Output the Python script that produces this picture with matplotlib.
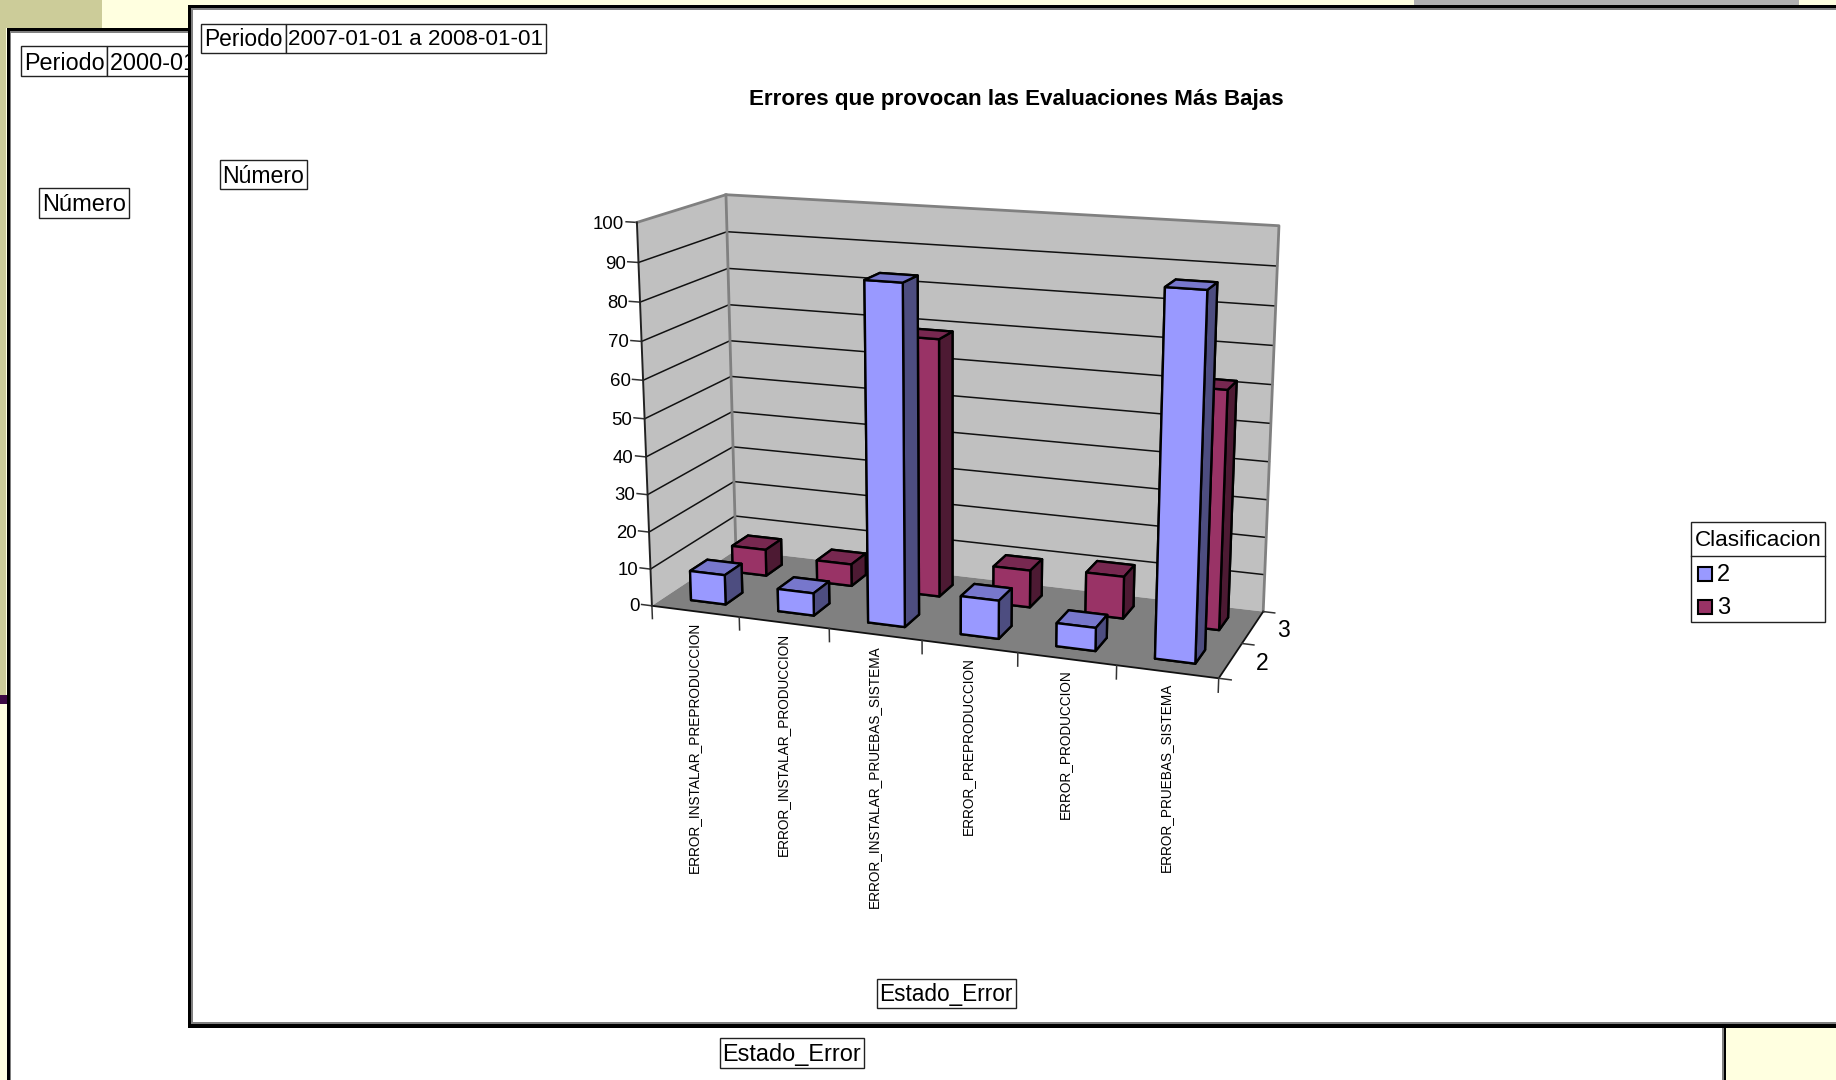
import numpy as np
import matplotlib
matplotlib.use('Agg')
import matplotlib.pyplot as plt
from matplotlib.patches import Rectangle
from mpl_toolkits.mplot3d.art3d import Poly3DCollection

plt.rcParams['font.family'] = ['Liberation Sans', 'DejaVu Sans']

categories = ['ERROR_INSTALAR_PREPRODUCCION', 'ERROR_INSTALAR_PRODUCCION',
              'ERROR_INSTALAR_PRUEBAS_SISTEMA', 'ERROR_PREPRODUCCION',
              'ERROR_PRODUCCION', 'ERROR_PRUEBAS_SISTEMA']
series_names = ['2', '3']
values_2 = [8, 6, 88, 10, 6, 91.2]
values_3 = [7.3, 6, 69, 10, 11.2, 62]
z_ticks = list(range(0, 101, 10))

title = 'Errores que provocan las Evaluaciones Más Bajas'
periodo_front = '2007-01-01 a 2008-01-01'
periodo_back = '2000-01-01 a 2008-01-01'

# face colours in bar3d order: bottom, top, front, back, left, right
colors_2 = ['#4d4d80', '#7777cc', '#9999ff', '#4d4d80', '#4d4d80', '#4d4d80']
colors_3 = ['#4d1a33', '#772850', '#993366', '#4d1a33', '#4d1a33', '#4d1a33']

# camera calibration: chart box points (cat, series, value) and where they land in pixels
calib_world = [(0, 0, 0), (0, 0, 100), (0, 2, 0), (0, 2, 100), (6, 2, 0), (6, 2, 100), (6, 0, 0),
               (1, 0, 0), (2, 0, 0), (3, 0, 0), (4, 0, 0), (5, 0, 0),
               (0, 0, 50), (0, 0, 20), (0, 0, 80)]
calib_px = [(652, 605), (637, 223), (736, 552), (726, 194), (1263, 610), (1279, 226), (1219, 679),
            (739.3, 616.4), (829.3, 628.3), (922, 640.3), (1017.6, 653), (1116.7, 666),
            (644.3, 418.7), (649, 531.3), (640, 302.3)]


def fit_camera(world, px):
    rows = []
    rhs = []
    for (x, y, z), (u, v) in zip(world, px):
        rows.append([x, y, z, 1, 0, 0, 0, 0, -u * x, -u * y, -u * z])
        rhs.append(u)
        rows.append([0, 0, 0, 0, x, y, z, 1, -v * x, -v * y, -v * z])
        rhs.append(v)
    p = np.linalg.lstsq(np.array(rows, float), np.array(rhs, float), rcond=None)[0]
    return np.append(p, 1.0).reshape(3, 4)


H = fit_camera(calib_world, calib_px)


def to_px(x, y, z):
    u, v, w = H @ np.array([x, y, z, 1.0])
    return u / w, v / w


fig = plt.figure(figsize=(18.36, 10.8), dpi=100, facecolor='#ffffe0')

# flat layer in pixels for the windows and the labels
bg = fig.add_axes([0, 0, 1, 1], zorder=0)
bg.set_xlim(0, 1836)
bg.set_ylim(1080, 0)
bg.axis('off')


def rect(x0, y0, x1, y1, color, z=1):
    bg.add_patch(Rectangle((x0, y0), x1 - x0, y1 - y0, facecolor=color, edgecolor='none', zorder=z))


def box(x0, y0, x1, y1, z=1):
    bg.add_patch(Rectangle((x0, y0), x1 - x0, y1 - y0, facecolor='white', edgecolor='#222222',
                           linewidth=1.0, zorder=z))


# slide background
rect(0, 0, 102, 28, '#cccc99')
rect(0, 0, 6, 695, '#cccc99')
rect(0, 695, 8, 704, '#3d0a45')
rect(1414, 0, 1799, 5, '#b0b0b0')

# back window
rect(7, 28, 1726, 1080, 'black')
rect(10, 31, 1724, 1080, '#808080')
rect(11, 33, 1722, 1080, 'white')
box(20.5, 46, 107, 76)
box(107, 46, 260, 76)
bg.text(64, 63, 'Periodo', fontsize=16.8, ha='center', va='center', zorder=1.5)
bg.text(110.5, 63, periodo_back, fontsize=16.8, ha='left', va='center', zorder=1.5)
box(38.7, 188, 129, 218)
bg.text(84, 205, 'Número', fontsize=17, ha='center', va='center', zorder=1.5)
box(720, 1038, 864, 1068)
bg.text(792, 1055, 'Estado_Error', fontsize=16.9, ha='center', va='center', zorder=1.5)

# front window
rect(188, 5, 1836, 1028, 'black', z=2)
rect(191, 8, 1836, 1024, '#808080', z=2)
rect(193, 10, 1836, 1022, 'white', z=2)

box(201, 23.5, 285.5, 52.5, z=3)
box(285.5, 23.5, 546, 52.5, z=3)
bg.text(243, 39.5, 'Periodo', fontsize=16.4, ha='center', va='center', zorder=4)
bg.text(288.5, 39.5, periodo_front, fontsize=16.1, ha='left', va='center', zorder=4)
box(219.5, 160, 306.5, 189, z=3)
bg.text(263, 176.5, 'Número', fontsize=16.6, ha='center', va='center', zorder=4)
box(876.5, 979, 1015.6, 1008, z=3)
bg.text(946, 995, 'Estado_Error', fontsize=16.3, ha='center', va='center', zorder=4)
bg.text(1016.5, 99, title, fontsize=16.15, fontweight='bold', ha='center', va='center', zorder=4)

# legend
box(1691, 522, 1825, 622, z=3)
bg.plot([1691, 1825], [556, 556], color='#222222', lw=1.0, zorder=4)
bg.text(1758, 540, 'Clasificacion', fontsize=16.2, ha='center', va='center', zorder=4)
for name, col, yc in zip(series_names, [colors_2[2], colors_3[2]], [573.5, 606.5]):
    bg.add_patch(Rectangle((1698, yc - 7), 14, 14, facecolor=col, edgecolor='black', linewidth=1.5, zorder=4))
    bg.text(1717, yc + 1.5, name, fontsize=17, ha='left', va='center', zorder=4)

# axis labels, placed from the same camera
for i, lab in enumerate(categories):
    u, v = to_px(i + 0.5, 0, -2.8)
    bg.text(u - 1.5, v, lab, fontsize=9.8, rotation=90, ha='center', va='top', zorder=4)
for z in z_ticks:
    u, v = to_px(-0.14, 0, z)
    bg.text(u, v + 2.5, str(z), fontsize=13.4, ha='right', va='center', zorder=4)
for k, name in enumerate(series_names):
    u, v = to_px(6.25, k + 0.5, 0)
    bg.text(u, v, name, fontsize=16.5, ha='left', va='center', zorder=4)

# the chart itself
ax = fig.add_axes([0, 0, 1, 1], projection='3d', computed_zorder=False, zorder=1)
ax.patch.set_visible(False)
ax.set_axis_off()

x_max = len(categories)
y_max = len(series_names)
z_max = z_ticks[-1]

walls = [[(0, 0, 0), (0, y_max, 0), (0, y_max, z_max), (0, 0, z_max)],
         [(0, y_max, 0), (x_max, y_max, 0), (x_max, y_max, z_max), (0, y_max, z_max)]]
wall_col = Poly3DCollection(walls, facecolors='#c0c0c0', edgecolors='none', zorder=1)
ax.add_collection3d(wall_col)
floor = [[(0, 0, 0), (x_max, 0, 0), (x_max, y_max, 0), (0, y_max, 0)]]
floor_col = Poly3DCollection(floor, facecolors='#808080', edgecolors='none', zorder=1.5)
ax.add_collection3d(floor_col)

for z in z_ticks[1:-1]:
    ax.plot([0, 0, x_max], [0, y_max, y_max], [z, z, z], color='#111111', lw=1.1, zorder=2)
    ax.plot([-0.12, 0], [0, 0], [z, z], color='#333333', lw=1.1, zorder=2)
ax.plot([-0.12, 0], [0, 0], [0, 0], color='#333333', lw=1.1, zorder=2)
ax.plot([-0.12, 0], [0, 0], [z_max, z_max], color='#333333', lw=1.1, zorder=2)

# wall outline
ax.plot([0, 0, x_max, x_max], [0, y_max, y_max, y_max], [z_max, z_max, z_max, 0],
        color='#808080', lw=2, zorder=2.1)
ax.plot([0, 0], [y_max, y_max], [0, z_max], color='#808080', lw=2, zorder=2.1)
ax.plot([0, 0], [0, 0], [0, z_max], color='#222222', lw=1.4, zorder=2.2)
ax.plot([0, x_max, x_max], [0, 0, y_max], [0, 0, 0], color='#111111', lw=1.3, zorder=2.2)

for i in range(x_max + 1):
    ax.plot([i, i], [0, 0], [0, -3.5], color='#333333', lw=1.1, zorder=2.2)
for k in range(y_max + 1):
    ax.plot([x_max, x_max + 0.12], [k, k], [0, 0], color='#333333', lw=1.1, zorder=2.2)

# back row first, then left to right: the camera sits front right
for k, (vals, cols) in enumerate([(values_3, colors_3), (values_2, colors_2)]):
    row = y_max - 1 - k
    for i, v in enumerate(vals):
        ax.bar3d(i + 0.3, row + 0.3, 0, 0.4, 0.4, v, color=cols, edgecolor='black', linewidth=1.7,
                 shade=False, zorder=3 + k * 10 + i)

ax.set_xlim(0, x_max)
ax.set_ylim(0, y_max)
ax.set_zlim(0, z_max)

# hand the fitted camera to the 3d axes
ax.apply_aspect()
inv = ax.transData.inverted()
(d0x, d0y), (d1x, d1y) = inv.transform([(0, 0), (1, 1)])
sx = d1x - d0x
sy = d1y - d0y
row_x = sx * H[0] + d0x * H[2]
# display y runs upward, pixels run downward
row_y = -sy * H[1] + (d0y + sy * 1080) * H[2]
M = np.array([row_x, row_y, [0, 0, 0, -1.0], H[2]])
ax.get_proj = lambda: M

fig.savefig('out.png', dpi=100, facecolor=fig.get_facecolor())
